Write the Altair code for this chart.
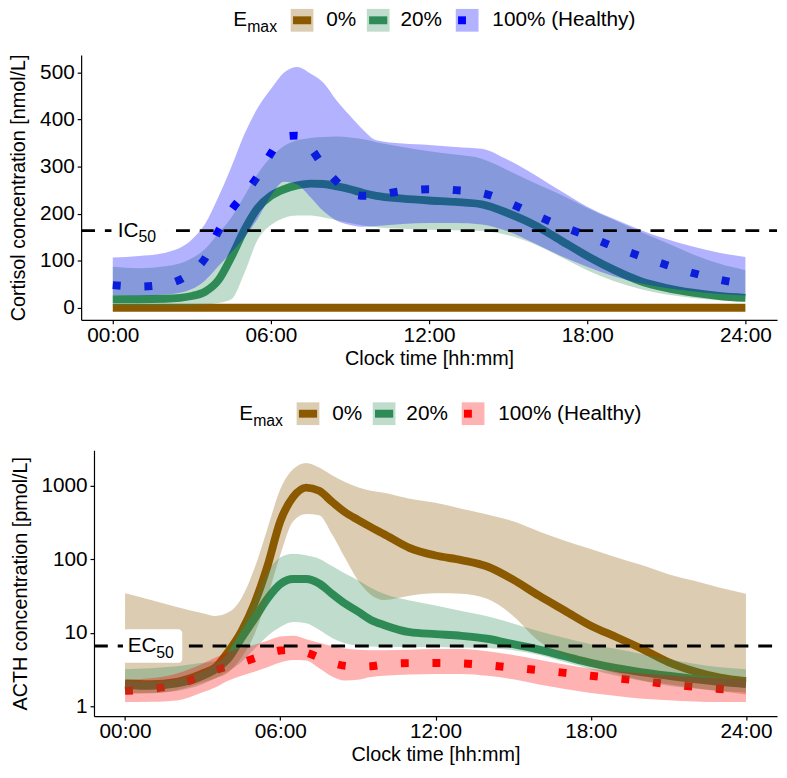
import altair as alt
import pandas as pd

FONT = "Liberation Sans"
FS = 21
TITLE_FS = 20

# ---------------- data ----------------
T = [0, 1, 2, 3, 3.5, 4, 4.5, 5, 5.5, 6, 6.5, 7, 7.5, 8, 8.5, 9, 9.5, 10,
     11, 12, 13, 14, 15, 16, 17, 18, 19, 20, 21, 22, 23, 24]
GROUPS = ["0%", "20%", "100% (Healthy)"]
X_TICKS = [0, 6, 12, 18, 24]
X_TICK_LABELS = ["00:00", "06:00", "12:00", "18:00", "24:00"]

# Cortisol [nmol/L]
CORT_0_MED = [0, 0, 0, 0, 0, 0, 0, 0, 0, 0, 0, 0, 0, 0, 0, 0, 0, 0,
              0, 0, 0, 0, 0, 0, 0, 0, 0, 0, 0, 0, 0, 0]
CORT_0_LO = CORT_0_MED
CORT_0_HI = CORT_0_MED
CORT_20_MED = [18, 18, 19, 25, 34, 58, 108, 166, 212, 238, 252, 260, 264, 263, 258, 252, 244, 238,
               232, 228, 225, 220, 201, 176, 143, 110, 81, 57, 42, 32, 25, 21]
CORT_20_LO = [4, 3, 3, 5, 7, 10, 18, 75, 145, 176, 191, 196, 196, 192, 186, 180, 175, 171,
              168, 166, 165, 163, 154, 135, 108, 80, 57, 40, 28, 21, 16, 13]
CORT_20_HI = [87, 84, 88, 105, 125, 158, 192, 238, 285, 320, 344, 356, 361, 363, 364, 362, 358, 352,
              342, 333, 326, 317, 292, 265, 240, 212, 187, 162, 138, 114, 94, 80]
CORT_H_MED = [48, 45, 50, 76, 105, 162, 208, 242, 280, 328, 364, 366, 340, 300, 268, 245, 238, 240,
              248, 252, 250, 244, 224, 198, 174, 153, 130, 110, 91, 74, 60, 50]
CORT_H_LO = [27, 26, 28, 40, 58, 88, 118, 150, 190, 238, 268, 262, 235, 205, 185, 176, 172, 174,
             178, 180, 180, 177, 162, 137, 110, 87, 67, 52, 42, 35, 29, 26]
CORT_H_HI = [107, 110, 117, 145, 178, 235, 300, 370, 425, 465, 500, 512, 498, 478, 440, 408, 378, 356,
             349, 346, 342, 338, 314, 283, 248, 215, 189, 166, 146, 130, 117, 108]

# ACTH [pmol/L]
ACTH_0_MED = [2.05, 2.0, 2.15, 2.8, 3.4, 5.6, 10.5, 25, 80, 330, 710, 950, 860, 610, 440, 345, 275, 222,
              143, 113, 98, 80, 53, 32, 20, 12.5, 8.7, 6.0, 4.0, 3.0, 2.45, 2.2]
ACTH_0_LO = [1.48, 1.5, 1.65, 2.1, 2.4, 2.9, 4.6, 9.5, 30, 115, 330, 415, 400, 220, 105, 52, 33, 28,
             32, 34.5, 34, 29, 17, 7.7, 4.9, 3.5, 2.8, 2.25, 2.0, 1.78, 1.6, 1.45]
ACTH_0_HI = [34.5, 28, 22.5, 18.5, 17, 19, 29.6, 75, 260, 900, 1700, 2060, 1780, 1400, 1130, 960, 860, 810,
             670, 590, 490, 410, 330, 240, 180, 138, 106, 83, 63, 51, 41, 34]
ACTH_20_MED = [1.95, 1.9, 2.05, 2.6, 3.2, 4.5, 8.5, 15.5, 29, 46, 54, 54, 47, 34, 25, 19.5, 15, 12.8,
               10.2, 9.6, 9.1, 8.3, 7.0, 5.9, 4.8, 3.9, 3.3, 2.9, 2.6, 2.35, 2.15, 2.0]
ACTH_20_LO = [1.5, 1.52, 1.62, 2.0, 2.4, 3.0, 4.0, 6.0, 9, 12, 14, 13.5, 11, 8.5, 7.2, 6.7, 6.5, 6.4,
              6.4, 6.4, 6.3, 6.2, 5.8, 5.0, 4.0, 3.2, 2.6, 2.2, 1.9, 1.75, 1.62, 1.55]
ACTH_20_HI = [3.2, 3.3, 3.5, 3.9, 4.1, 5.2, 11.7, 28, 66, 106, 119, 114, 102, 81, 64, 52, 41, 34,
              27.5, 23.5, 19.8, 16.8, 13.4, 10.5, 8.5, 7.0, 6.0, 5.1, 4.4, 3.8, 3.4, 3.2]
ACTH_H_MED = [1.62, 1.72, 1.98, 2.6, 3.1, 3.5, 3.95, 4.5, 5.2, 5.75, 5.85, 5.4, 4.6, 3.9, 3.55, 3.45, 3.5, 3.7,
              3.87, 3.88, 3.83, 3.62, 3.35, 3.1, 2.85, 2.6, 2.4, 2.2, 2.0, 1.84, 1.72, 1.62]
ACTH_H_LO = [1.14, 1.15, 1.2, 1.55, 1.82, 2.25, 2.6, 2.95, 3.4, 3.95, 4.25, 4.2, 3.3, 2.55, 2.25, 2.3, 2.5, 2.6,
             2.7, 2.75, 2.75, 2.6, 2.33, 1.98, 1.72, 1.52, 1.38, 1.27, 1.21, 1.16, 1.14, 1.14]
ACTH_H_HI = [2.3, 2.4, 2.8, 3.8, 4.6, 5.5, 6.2, 6.9, 7.8, 8.9, 9.1, 8.2, 7.3, 6.6, 6.1, 5.9, 5.8, 5.8,
             5.9, 6.0, 6.0, 5.6, 5.0, 4.3, 3.7, 3.25, 3.0, 2.8, 2.65, 2.5, 2.4, 2.3]

IC50 = 164
EC50 = 6.6

# ---------------- styling ----------------
LINE_TOP = ["#8B5A00", "#2E8B57", "#0000FF"]
LINE_BOT = ["#8B5A00", "#2E8B57", "#FF0000"]
BAND_OPACITY = 0.3
LW = 8
X_DOMAIN = [-1.2, 25.2]
PANEL_W = 704


def make_df(series):
    rows = []
    for g, (m, lo, hi) in zip(GROUPS, series):
        for t, a, b, c in zip(T, m, lo, hi):
            rows.append({"t": t, "group": g, "med": a, "lo": b, "hi": c})
    return pd.DataFrame(rows)


df_top = make_df([(CORT_0_MED, CORT_0_LO, CORT_0_HI),
                  (CORT_20_MED, CORT_20_LO, CORT_20_HI),
                  (CORT_H_MED, CORT_H_LO, CORT_H_HI)])
df_bot = make_df([(ACTH_0_MED, ACTH_0_LO, ACTH_0_HI),
                  (ACTH_20_MED, ACTH_20_LO, ACTH_20_HI),
                  (ACTH_H_MED, ACTH_H_LO, ACTH_H_HI)])

label_expr = "[" + ",".join("'%s'" % s for s in X_TICK_LABELS) + "][round(datum.value/6)]"

# legend geometry (page coordinates of the top legend)
LEG_E_X = 232
LEG_MAX_X = 246
LEG_KEY_X = [290, 367, 457]
LEG_LABEL_X = [326, 401, 494]
KEY_W = 23
KEY_H = 23
ORIGIN_X = 78


def legend_layers(colors, shift_x, cy):
    one = pd.DataFrame({"k": [0]})
    layers = [
        alt.Chart(one).mark_text(text="E", font=FONT, fontSize=FS, align="left",
                                 baseline="middle", color="black")
        .encode(x=alt.value(LEG_E_X + shift_x), y=alt.value(cy)),
        alt.Chart(one).mark_text(text="max", font=FONT, fontSize=16, align="left",
                                 baseline="middle", color="black")
        .encode(x=alt.value(LEG_MAX_X + shift_x), y=alt.value(cy + 7)),
    ]
    for i, (g, c) in enumerate(zip(GROUPS, colors)):
        kx = LEG_KEY_X[i] + shift_x
        layers.append(alt.Chart(one).mark_rect(color=c, opacity=BAND_OPACITY)
                      .encode(x=alt.value(kx), x2=alt.value(kx + KEY_W),
                              y=alt.value(cy - KEY_H / 2), y2=alt.value(cy + KEY_H / 2)))
        inner_end = kx + KEY_W - 2.3 if i < 2 else kx + 2.3 + LW
        layers.append(alt.Chart(one).mark_rect(color=c)
                      .encode(x=alt.value(kx + 2.3), x2=alt.value(inner_end),
                              y=alt.value(cy - LW / 2), y2=alt.value(cy + LW / 2)))
        layers.append(alt.Chart(one).mark_text(text=g, font=FONT, fontSize=FS, align="left",
                                               baseline="middle", color="black")
                      .encode(x=alt.value(LEG_LABEL_X[i] + shift_x), y=alt.value(cy)))
    return layers


def panel(df, colors, yscale, yaxis_kw, ytitle, left_inset, height, ref, lab, box, leg_shift, leg_cy):
    yaxis = alt.Axis(offset=-left_inset, **yaxis_kw)
    xscale = alt.Scale(domain=X_DOMAIN, nice=False, zero=False, range=[left_inset, PANEL_W])
    xaxis = alt.Axis(values=X_TICKS, labelExpr=label_expr, title="Clock time [hh:mm]")

    def X(field):
        return alt.X(field, scale=xscale, axis=xaxis)

    def Y(field, **kw):
        return alt.Y(field, scale=yscale, axis=yaxis, title=ytitle, **kw)

    cscale = alt.Scale(domain=GROUPS, range=colors)
    color = alt.Color("group:N", scale=cscale, legend=None)

    solid = (alt.Chart(df).transform_filter(alt.FieldOneOfPredicate(field="group", oneOf=GROUPS[:2]))
             .mark_line(strokeWidth=LW, interpolate="monotone")
             .encode(x=X("t:Q"), y=Y("med:Q"), color=color))
    dotted = (alt.Chart(df).transform_filter(alt.FieldEqualPredicate(field="group", equal=GROUPS[2]))
              .mark_line(strokeWidth=LW, strokeDash=[LW, 3 * LW], strokeCap="butt", interpolate="monotone")
              .encode(x=X("t:Q"), y=Y("med:Q"), color=color))
    ribbons = []
    for g in GROUPS:
        ribbons.append(alt.Chart(df).transform_filter(alt.FieldEqualPredicate(field="group", equal=g))
                       .mark_area(opacity=BAND_OPACITY, interpolate="monotone")
                       .encode(x=X("t:Q"), y=Y("lo:Q", stack=None), y2="hi:Q", color=color))
    rule = (alt.Chart(pd.DataFrame({"v": [ref], "a": [X_DOMAIN[0]], "b": [X_DOMAIN[1]]}))
            .mark_rule(color="black", strokeWidth=3, strokeDash=[14, 10])
            .encode(x=X("a:Q"), x2="b:Q", y=Y("v:Q")))
    bx = (alt.Chart(pd.DataFrame([box])).mark_rect(fill="white", cornerRadius=4)
          .encode(x=X("x0:Q"), x2="x1:Q", y=Y("y0:Q"), y2="y1:Q"))
    txt_main = (alt.Chart(pd.DataFrame([{"t": lab[0], "v": ref}]))
                .mark_text(text=lab[1], font=FONT, fontSize=FS, align="left", baseline="middle", color="black")
                .encode(x=X("t:Q"), y=Y("v:Q")))
    txt_sub = (alt.Chart(pd.DataFrame([{"t": lab[0], "v": ref}]))
               .mark_text(text=lab[2], font=FONT, fontSize=16, align="left", baseline="middle",
                          color="black", dx=lab[3], dy=7)
               .encode(x=X("t:Q"), y=Y("v:Q")))
    layers = [solid, dotted] + ribbons + [rule, bx, txt_main, txt_sub] + legend_layers(colors, leg_shift, leg_cy)
    return alt.layer(*layers).properties(width=PANEL_W, height=height)


top = panel(
    df_top, LINE_TOP,
    alt.Scale(domain=[-25.6, 537.6], nice=False, zero=False),
    dict(values=[0, 100, 200, 300, 400, 500]),
    "Cortisol concentration [nmol/L]",
    0, 268, IC50,
    (0.19, "IC", "50", 21),
    {"x0": -0.05, "x1": 2.05, "y0": 193, "y1": 126},
    -ORIGIN_X, -35,
)

bottom = panel(
    df_bot, LINE_BOT,
    alt.Scale(type="log", domain=[0.733, 3060], nice=False),
    dict(values=[1, 10, 100, 1000], format="d"),
    "ACTH concentration [pmol/L]",
    13, 269, EC50,
    (0.1, "EC", "50", 29),
    {"x0": -0.08, "x1": 2.21, "y0": 11.2, "y1": 3.9},
    6 - ORIGIN_X, -37,
)

chart = (alt.vconcat(top, bottom, spacing=34)
         .resolve_scale(color="independent", x="independent", y="independent")
         .properties(padding={"left": 0, "top": -4, "right": 0, "bottom": 0})
         .configure_view(stroke=None)
         .configure_axis(domainColor="black", domainWidth=1.2, tickColor="black", tickWidth=1.2,
                         tickSize=4, labelColor="black", labelFont=FONT, labelFontSize=FS,
                         titleFont=FONT, titleFontSize=TITLE_FS, titleFontWeight="normal",
                         titleColor="black", grid=False, labelPadding=1)
         .configure_axisY(titlePadding=11, labelPadding=3)
         .configure_axisX(titlePadding=3))

chart.save("out.html", embed_options={"renderer": "svg", "actions": False})
